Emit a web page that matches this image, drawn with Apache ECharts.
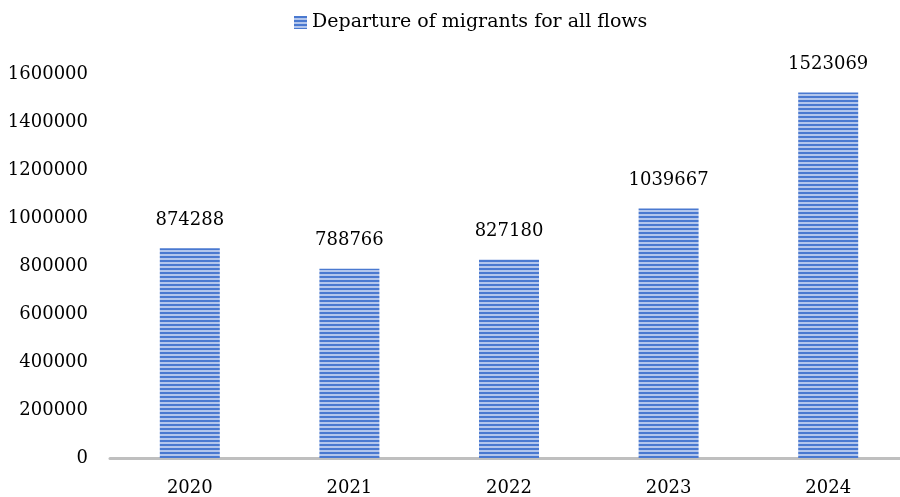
<!DOCTYPE html>
<html>
<head>
<meta charset="utf-8">
<script src="https://cdn.jsdelivr.net/npm/echarts@6/dist/echarts.min.js"></script>
<style>html,body{margin:0;padding:0;background:#fff;overflow:hidden;width:900px;height:497px;}#c{width:908px;height:497px;}</style>
</head>
<body>
<div id="c"></div>
<script>
const categories = ['2020', '2021', '2022', '2023', '2024'];
const departures = [874288, 788766, 827180, 1039667, 1523069];
const seriesName = 'Departure of migrants for all flows';

function stripe() {
  const c = document.createElement('canvas');
  c.width = 4; c.height = 4;
  const ctx = c.getContext('2d');
  ctx.fillStyle = '#4a79d0'; ctx.fillRect(0, 0, 4, 2);
  ctx.fillStyle = '#b3c6ec'; ctx.fillRect(0, 2, 4, 2);
  return c;
}
const pat = { image: stripe(), repeat: 'repeat' };
const font = 'DejaVu Serif';
const chart = echarts.init(document.getElementById('c'));
chart.setOption({
  animation: false,
  textStyle: { fontFamily: font },
  legend: {
    top: 8, left: 289,
    itemWidth: 13, itemHeight: 13, itemGap: 8,
    icon: 'rect',
    textStyle: { fontFamily: font, fontSize: 19, color: '#000' },
    data: [seriesName]
  },
  grid: { left: 110, right: 0, top: 74, bottom: 39, containLabel: false },
  xAxis: {
    type: 'category', data: categories,
    axisLine: { lineStyle: { color: '#BFBFBF', width: 3 } },
    axisTick: { show: false },
    axisLabel: { fontFamily: font, fontSize: 18, color: '#000', margin: 21 }
  },
  yAxis: {
    type: 'value', min: 0, max: 1600000, interval: 200000,
    axisLine: { show: false }, axisTick: { show: false },
    splitLine: { show: false },
    axisLabel: { fontFamily: font, fontSize: 18, color: '#000', margin: 22, formatter: v => String(v) }
  },
  series: [{
    name: seriesName, type: 'bar', data: departures, barWidth: 60,
    itemStyle: { color: pat },
    label: { show: true, position: 'top', distance: 19, fontFamily: font, fontSize: 18, color: '#000' }
  }]
});
</script>
</body>
</html>
